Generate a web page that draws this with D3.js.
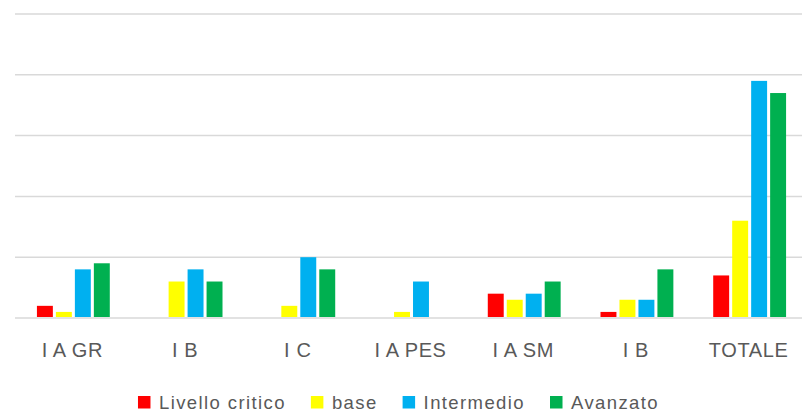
<!DOCTYPE html>
<html>
<head>
<meta charset="utf-8">
<script src="https://cdn.jsdelivr.net/npm/d3@7"></script>
<style>
body { margin: 0; background: #fff; }
text { font-family: "Liberation Sans", Arial, sans-serif; fill: #595959; }
</style>
</head>
<body>
<script>
var width = 802;
var height = 412;

// data
var categories = ["I A GR", "I B", "I C", "I A PES", "I A SM", "I B", "TOTALE"];
var seriesNames = ["Livello critico", "base", "Intermedio", "Avanzato"];
var seriesColors = ["#ff0000", "#ffff00", "#00b0f0", "#00b050"];
var livelloCritico = [2, 0, 0, 0, 4, 1, 7];
var base = [1, 6, 2, 1, 3, 3, 16];
var intermedio = [8, 8, 10, 6, 4, 3, 39];
var avanzato = [9, 6, 8, 0, 6, 8, 37];
var yTicks = [0, 10, 20, 30, 40, 50];

var values = [livelloCritico, base, intermedio, avanzato];

var svg = d3.select("body").append("svg")
    .attr("width", width)
    .attr("height", height);

var x = d3.scaleBand()
    .domain(d3.range(categories.length))
    .range([17, 806]);

var xInner = d3.scaleBand()
    .domain(d3.range(seriesNames.length))
    .range([0, x.bandwidth()])
    .paddingInner(0.16)
    .paddingOuter(1.05);

var y = d3.scaleLinear()
    .domain([0, 50])
    .range([318, 14]);

// gridlines
svg.append("g").selectAll("line")
    .data(yTicks)
    .enter()
    .append("line")
    .attr("x1", 15)
    .attr("x2", 802)
    .attr("y1", function (d) { return y(d); })
    .attr("y2", function (d) { return y(d); })
    .attr("stroke", "#d9d9d9")
    .attr("stroke-width", 1.5);

// bars
var groups = svg.append("g").selectAll("g")
    .data(categories)
    .enter()
    .append("g")
    .attr("transform", function (d, i) { return "translate(" + x(i) + ",0)"; });

groups.selectAll("rect")
    .data(function (d, i) {
        return values.map(function (s, j) { return { s: j, v: s[i] }; });
    })
    .enter()
    .filter(function (d) { return d.v > 0; })
    .append("rect")
    .attr("x", function (d) { return xInner(d.s); })
    .attr("width", xInner.bandwidth())
    .attr("y", function (d) { return y(d.v); })
    .attr("height", function (d) { return y(0) - y(d.v) - 1; })
    .attr("fill", function (d) { return seriesColors[d.s]; });

// category labels
svg.append("g").selectAll("text")
    .data(categories)
    .enter()
    .append("text")
    .attr("x", function (d, i) { return x(i) + x.bandwidth() / 2 - 1; })
    .attr("y", 357)
    .attr("text-anchor", "middle")
    .attr("font-size", 20)
    .attr("letter-spacing", "0.6px")
    .text(function (d) { return d; });

// legend, laid out item after item and centred
var legend = svg.append("g").attr("transform", "translate(0,396)");
var items = legend.selectAll("g")
    .data(seriesNames)
    .enter()
    .append("g");

items.append("rect")
    .attr("width", 12.5)
    .attr("height", 12.5)
    .attr("fill", function (d, i) { return seriesColors[i]; });

items.append("text")
    .attr("x", 21)
    .attr("y", 12.5)
    .attr("font-size", 18.5)
    .attr("letter-spacing", "1.4px")
    .text(function (d) { return d; });

var pos = 0;
items.each(function () {
    var w = 21 + d3.select(this).select("text").node().getComputedTextLength();
    d3.select(this).attr("transform", "translate(" + pos + ",0)");
    pos += w + 25;
});
pos -= 25;
legend.attr("transform", "translate(" + (398.5 - pos / 2) + ",396)");
</script>
</body>
</html>
